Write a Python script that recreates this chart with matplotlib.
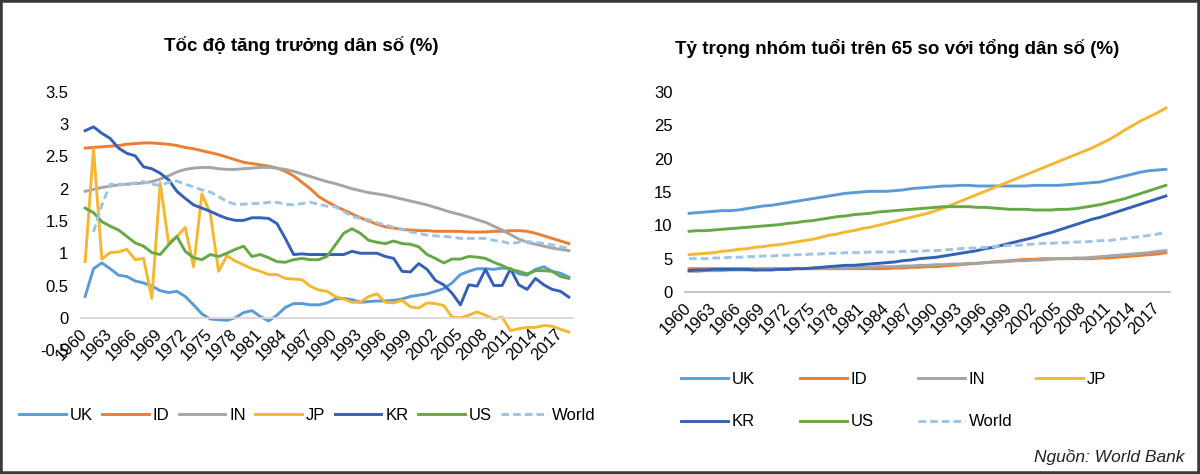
# Population growth and 65+ share, two Excel-style line charts side by side

import matplotlib.pyplot as plt
import numpy as np
from matplotlib.patches import Rectangle
from matplotlib import font_manager

years = list(range(1960, 2019))
countries = ['UK', 'ID', 'IN', 'JP', 'KR', 'US', 'World']

# population growth (%)
uk_g = [0.33, 0.76, 0.85, 0.76, 0.66, 0.64, 0.57, 0.54, 0.49, 0.42,
        0.39, 0.41, 0.33, 0.20, 0.06, -0.02, -0.03, -0.04, 0.00, 0.08,
        0.11, 0.02, -0.05, 0.04, 0.16, 0.22, 0.22, 0.20, 0.20, 0.23,
        0.29, 0.30, 0.28, 0.24, 0.25, 0.26, 0.26, 0.27, 0.29, 0.33,
        0.35, 0.37, 0.41, 0.45, 0.54, 0.67, 0.72, 0.76, 0.76, 0.75,
        0.77, 0.76, 0.68, 0.66, 0.75, 0.79, 0.72, 0.69, 0.63]
id_g = [2.63, 2.64, 2.65, 2.66, 2.67, 2.69, 2.70, 2.71, 2.71, 2.70,
        2.69, 2.67, 2.64, 2.62, 2.59, 2.56, 2.53, 2.49, 2.45, 2.41,
        2.39, 2.37, 2.35, 2.32, 2.27, 2.20, 2.10, 2.00, 1.88, 1.80,
        1.73, 1.67, 1.61, 1.55, 1.50, 1.45, 1.41, 1.39, 1.37, 1.36,
        1.35, 1.35, 1.34, 1.34, 1.34, 1.34, 1.33, 1.33, 1.33, 1.34,
        1.34, 1.35, 1.35, 1.34, 1.31, 1.27, 1.23, 1.19, 1.15]
in_g = [1.96, 1.99, 2.02, 2.04, 2.06, 2.07, 2.08, 2.09, 2.11, 2.15,
        2.20, 2.26, 2.30, 2.32, 2.33, 2.33, 2.31, 2.30, 2.30, 2.31,
        2.32, 2.33, 2.33, 2.32, 2.30, 2.27, 2.23, 2.19, 2.15, 2.11,
        2.08, 2.04, 2.00, 1.97, 1.94, 1.92, 1.90, 1.87, 1.84, 1.81,
        1.78, 1.75, 1.71, 1.67, 1.63, 1.60, 1.56, 1.52, 1.48, 1.42,
        1.36, 1.29, 1.22, 1.17, 1.14, 1.11, 1.08, 1.06, 1.04]
jp_g = [0.87, 2.62, 0.91, 1.01, 1.02, 1.06, 0.90, 0.92, 0.30, 2.09,
        1.16, 1.26, 1.40, 0.79, 1.92, 1.62, 0.72, 0.96, 0.88, 0.82,
        0.76, 0.72, 0.67, 0.67, 0.61, 0.60, 0.59, 0.49, 0.43, 0.41,
        0.33, 0.29, 0.24, 0.24, 0.33, 0.37, 0.24, 0.23, 0.27, 0.17,
        0.15, 0.23, 0.22, 0.19, 0.01, 0.00, 0.04, 0.09, 0.04, -0.02,
        0.01, -0.20, -0.17, -0.15, -0.15, -0.12, -0.13, -0.18, -0.22]
kr_g = [2.90, 2.96, 2.86, 2.78, 2.63, 2.55, 2.51, 2.34, 2.31, 2.24,
        2.14, 1.96, 1.85, 1.75, 1.70, 1.65, 1.59, 1.54, 1.51, 1.51,
        1.55, 1.55, 1.54, 1.46, 1.23, 0.98, 0.99, 0.98, 0.98, 0.98,
        0.98, 0.98, 1.03, 1.00, 1.00, 1.00, 0.95, 0.92, 0.72, 0.71,
        0.84, 0.75, 0.58, 0.51, 0.38, 0.20, 0.51, 0.49, 0.75, 0.50,
        0.50, 0.76, 0.51, 0.44, 0.61, 0.51, 0.44, 0.41, 0.32]
us_g = [1.70, 1.63, 1.49, 1.42, 1.36, 1.26, 1.16, 1.11, 1.01, 0.98,
        1.13, 1.26, 1.03, 0.93, 0.90, 0.98, 0.95, 1.00, 1.06, 1.11,
        0.95, 0.98, 0.93, 0.87, 0.86, 0.90, 0.92, 0.90, 0.90, 0.95,
        1.13, 1.31, 1.38, 1.31, 1.20, 1.17, 1.15, 1.19, 1.15, 1.14,
        1.10, 0.98, 0.92, 0.85, 0.91, 0.91, 0.95, 0.94, 0.92, 0.86,
        0.81, 0.75, 0.72, 0.68, 0.73, 0.73, 0.72, 0.64, 0.61]
world_g = [np.nan, 1.33, 1.75, 2.07, 2.07, 2.07, 2.09, 2.11, 2.07, 2.05,
           2.10, 2.12, 2.07, 2.03, 1.98, 1.95, 1.88, 1.80, 1.76, 1.76,
           1.77, 1.77, 1.79, 1.79, 1.76, 1.75, 1.77, 1.79, 1.76, 1.73,
           1.72, 1.65, 1.57, 1.54, 1.52, 1.47, 1.44, 1.40, 1.37, 1.33,
           1.31, 1.28, 1.27, 1.26, 1.25, 1.23, 1.23, 1.23, 1.23, 1.20,
           1.18, 1.15, 1.17, 1.18, 1.17, 1.15, 1.13, 1.10, 1.08]

# share of population aged 65+ (%)
uk_o = [11.8, 11.9, 12.0, 12.1, 12.2, 12.2, 12.3, 12.5, 12.7, 12.9,
        13.0, 13.2, 13.4, 13.6, 13.8, 14.0, 14.2, 14.4, 14.6, 14.8,
        14.9, 15.0, 15.1, 15.1, 15.1, 15.2, 15.3, 15.5, 15.6, 15.7,
        15.8, 15.9, 15.9, 16.0, 16.0, 15.9, 15.9, 15.9, 15.9, 15.9,
        15.9, 15.9, 16.0, 16.0, 16.0, 16.0, 16.1, 16.2, 16.3, 16.4,
        16.5, 16.8, 17.1, 17.4, 17.7, 18.0, 18.2, 18.3, 18.4]
id_o = [3.5, 3.5, 3.5, 3.5, 3.5, 3.5, 3.5, 3.5, 3.5, 3.5,
        3.5, 3.5, 3.5, 3.5, 3.5, 3.5, 3.5, 3.5, 3.5, 3.5,
        3.5, 3.5, 3.5, 3.5, 3.5, 3.6, 3.6, 3.7, 3.7, 3.8,
        3.8, 3.9, 4.0, 4.1, 4.2, 4.3, 4.4, 4.5, 4.6, 4.7,
        4.8, 4.9, 4.9, 5.0, 5.0, 5.0, 5.0, 5.0, 5.0, 5.0,
        5.1, 5.1, 5.2, 5.3, 5.4, 5.5, 5.6, 5.7, 5.9]
in_o = [3.1, 3.1, 3.2, 3.2, 3.2, 3.3, 3.3, 3.3, 3.3, 3.4,
        3.4, 3.4, 3.4, 3.5, 3.5, 3.5, 3.5, 3.6, 3.6, 3.6,
        3.7, 3.7, 3.7, 3.8, 3.8, 3.8, 3.9, 3.9, 4.0, 4.0,
        4.1, 4.1, 4.2, 4.2, 4.3, 4.3, 4.4, 4.5, 4.5, 4.6,
        4.7, 4.7, 4.8, 4.8, 4.9, 5.0, 5.0, 5.1, 5.1, 5.2,
        5.3, 5.4, 5.5, 5.6, 5.7, 5.8, 5.9, 6.1, 6.2]
jp_o = [5.6, 5.7, 5.8, 5.9, 6.1, 6.2, 6.4, 6.5, 6.7, 6.8,
        7.0, 7.1, 7.3, 7.5, 7.7, 7.9, 8.2, 8.5, 8.7, 9.0,
        9.2, 9.5, 9.7, 10.0, 10.3, 10.6, 10.9, 11.2, 11.5, 11.8,
        12.2, 12.6, 13.1, 13.6, 14.1, 14.6, 15.1, 15.6, 16.1, 16.6,
        17.1, 17.6, 18.1, 18.6, 19.1, 19.6, 20.1, 20.6, 21.1, 21.6,
        22.2, 22.8, 23.5, 24.3, 25.0, 25.7, 26.3, 26.9, 27.6]
kr_o = [3.2, 3.3, 3.3, 3.4, 3.4, 3.4, 3.4, 3.4, 3.3, 3.3,
        3.3, 3.4, 3.4, 3.5, 3.5, 3.6, 3.7, 3.8, 3.9, 4.0,
        4.0, 4.1, 4.2, 4.3, 4.4, 4.5, 4.7, 4.8, 5.0, 5.1,
        5.2, 5.4, 5.6, 5.8, 6.0, 6.2, 6.5, 6.7, 7.0, 7.3,
        7.6, 7.9, 8.2, 8.6, 8.9, 9.3, 9.7, 10.1, 10.5, 10.9,
        11.2, 11.6, 12.0, 12.4, 12.8, 13.2, 13.6, 14.0, 14.4]
us_o = [9.1, 9.2, 9.2, 9.3, 9.4, 9.5, 9.6, 9.7, 9.8, 9.9,
        10.0, 10.1, 10.3, 10.4, 10.6, 10.7, 10.9, 11.1, 11.3, 11.4,
        11.6, 11.7, 11.8, 12.0, 12.1, 12.2, 12.3, 12.4, 12.5, 12.6,
        12.7, 12.8, 12.8, 12.8, 12.8, 12.7, 12.7, 12.6, 12.5, 12.4,
        12.4, 12.4, 12.3, 12.3, 12.3, 12.4, 12.4, 12.5, 12.7, 12.9,
        13.1, 13.4, 13.7, 14.0, 14.4, 14.8, 15.2, 15.6, 16.0]
world_o = [5.0, 5.0, 5.0, 5.1, 5.1, 5.2, 5.2, 5.3, 5.3, 5.4,
           5.4, 5.5, 5.5, 5.6, 5.6, 5.7, 5.7, 5.8, 5.8, 5.9,
           5.9, 5.9, 6.0, 6.0, 6.0, 6.0, 6.1, 6.1, 6.1, 6.2,
           6.2, 6.3, 6.4, 6.5, 6.6, 6.6, 6.7, 6.8, 6.9, 7.0,
           7.0, 7.1, 7.2, 7.3, 7.3, 7.4, 7.4, 7.5, 7.5, 7.6,
           7.7, 7.7, 7.9, 8.0, 8.2, 8.3, 8.5, 8.7, 8.9]

growth = [uk_g, id_g, in_g, jp_g, kr_g, us_g, world_g]
old = [uk_o, id_o, in_o, jp_o, kr_o, us_o, world_o]
colors = ['#5B9BD5', '#ED7D31', '#A5A5A5', '#F4B731', '#3461B3', '#66A845', '#9DC3E6']

names = {f.name for f in font_manager.fontManager.ttflist}
base = 'Liberation Sans' if 'Liberation Sans' in names else 'DejaVu Sans'
plt.rcParams['font.family'] = [base, 'DejaVu Sans']

W, H = 1200, 474
fig = plt.figure(figsize=(12, 4.74), dpi=100)
x = np.arange(len(years))


def box(l, r, b, t):
    # pixel box -> figure fraction
    return [l / W, 1 - b / H, (r - l) / W, (b - t) / H]


def draw(ax, series, axis_color, zero_axis=False):
    lines = []
    for s, c, n in zip(series, colors, countries):
        if n == 'World':
            ln, = ax.plot(x, s, color=c, lw=2.1, dashes=(2.6, 1.4), label=n)
        else:
            ln, = ax.plot(x, s, color=c, lw=2.1, label=n)
        lines.append(ln)
    ax.set_xlim(-0.5, len(years) - 0.5)
    for sp in ['top', 'right', 'left']:
        ax.spines[sp].set_visible(False)
    if zero_axis:
        # set before the tick labels, moving the spine resets the ticks
        ax.spines['bottom'].set_position(('data', 0))
    ax.spines['bottom'].set_color(axis_color)
    ax.spines['bottom'].set_linewidth(1.3)
    ax.set_xticks(x[::3])
    ax.set_xticklabels([str(y) for y in years[::3]], rotation=45, ha='right',
                       va='center', rotation_mode='anchor', fontsize=12)
    ax.tick_params(axis='both', length=0, labelsize=12)
    ax.tick_params(axis='x', pad=10)
    ax.tick_params(axis='y', pad=9)
    return lines


# left chart
ax1 = fig.add_axes(box(81, 573, 350, 92))
ax1.set_ylim(-0.5, 3.5)
lines1 = draw(ax1, growth, '#D9D9D9', zero_axis=True)
ax1.set_ylim(-0.5, 3.5)
yt1 = [-0.5, 0, 0.5, 1, 1.5, 2, 2.5, 3, 3.5]
ax1.set_yticks(yt1)
ax1.set_yticklabels(['-0.5', '0', '0.5', '1', '1.5', '2', '2.5', '3', '3.5'])

# right chart
ax2 = fig.add_axes(box(685, 1170, 292, 92))
lines2 = draw(ax2, old, '#BFBFBF')
ax2.set_ylim(0, 30)
ax2.set_yticks(range(0, 31, 5))

fig.text(301 / W, 1 - 46 / H, 'Tốc độ tăng trưởng dân số (%)', ha='center', va='center',
         fontsize=13.5, fontweight='bold')
fig.text(897 / W, 1 - 48 / H, 'Tỷ trọng nhóm tuổi trên 65 so với tổng dân số (%)', ha='center',
         va='center', fontsize=13.5, fontweight='bold')

fig.legend(lines1, countries, loc='center left', bbox_to_anchor=(19 / W, 1 - 415 / H), ncol=7,
           frameon=False, fontsize=12, handlelength=2.8, handletextpad=0.25,
           columnspacing=0.55, borderpad=0, borderaxespad=0)

cols = [[0, 4], [1, 5], [2, 6], [3]]
col_x = [681, 800, 918, 1036]
for idx, cx in zip(cols, col_x):
    fig.legend([lines2[i] for i in idx], [countries[i] for i in idx], loc='upper left',
               bbox_to_anchor=(cx / W, 1 - 372 / H), ncol=1, frameon=False, fontsize=12,
               handlelength=2.8, handletextpad=0.25, labelspacing=1.65,
               borderpad=0, borderaxespad=0)

fig.text(1185 / W, 1 - 457 / H, 'Nguồn: World Bank', ha='right', va='center', fontsize=12.5,
         style='italic', color='#222222')

fig.patches.append(Rectangle((0, 0), 1, 1, transform=fig.transFigure, fill=False,
                             lw=4, edgecolor='#3a3a3a'))

fig.savefig('out.png', dpi=100, facecolor='white')
